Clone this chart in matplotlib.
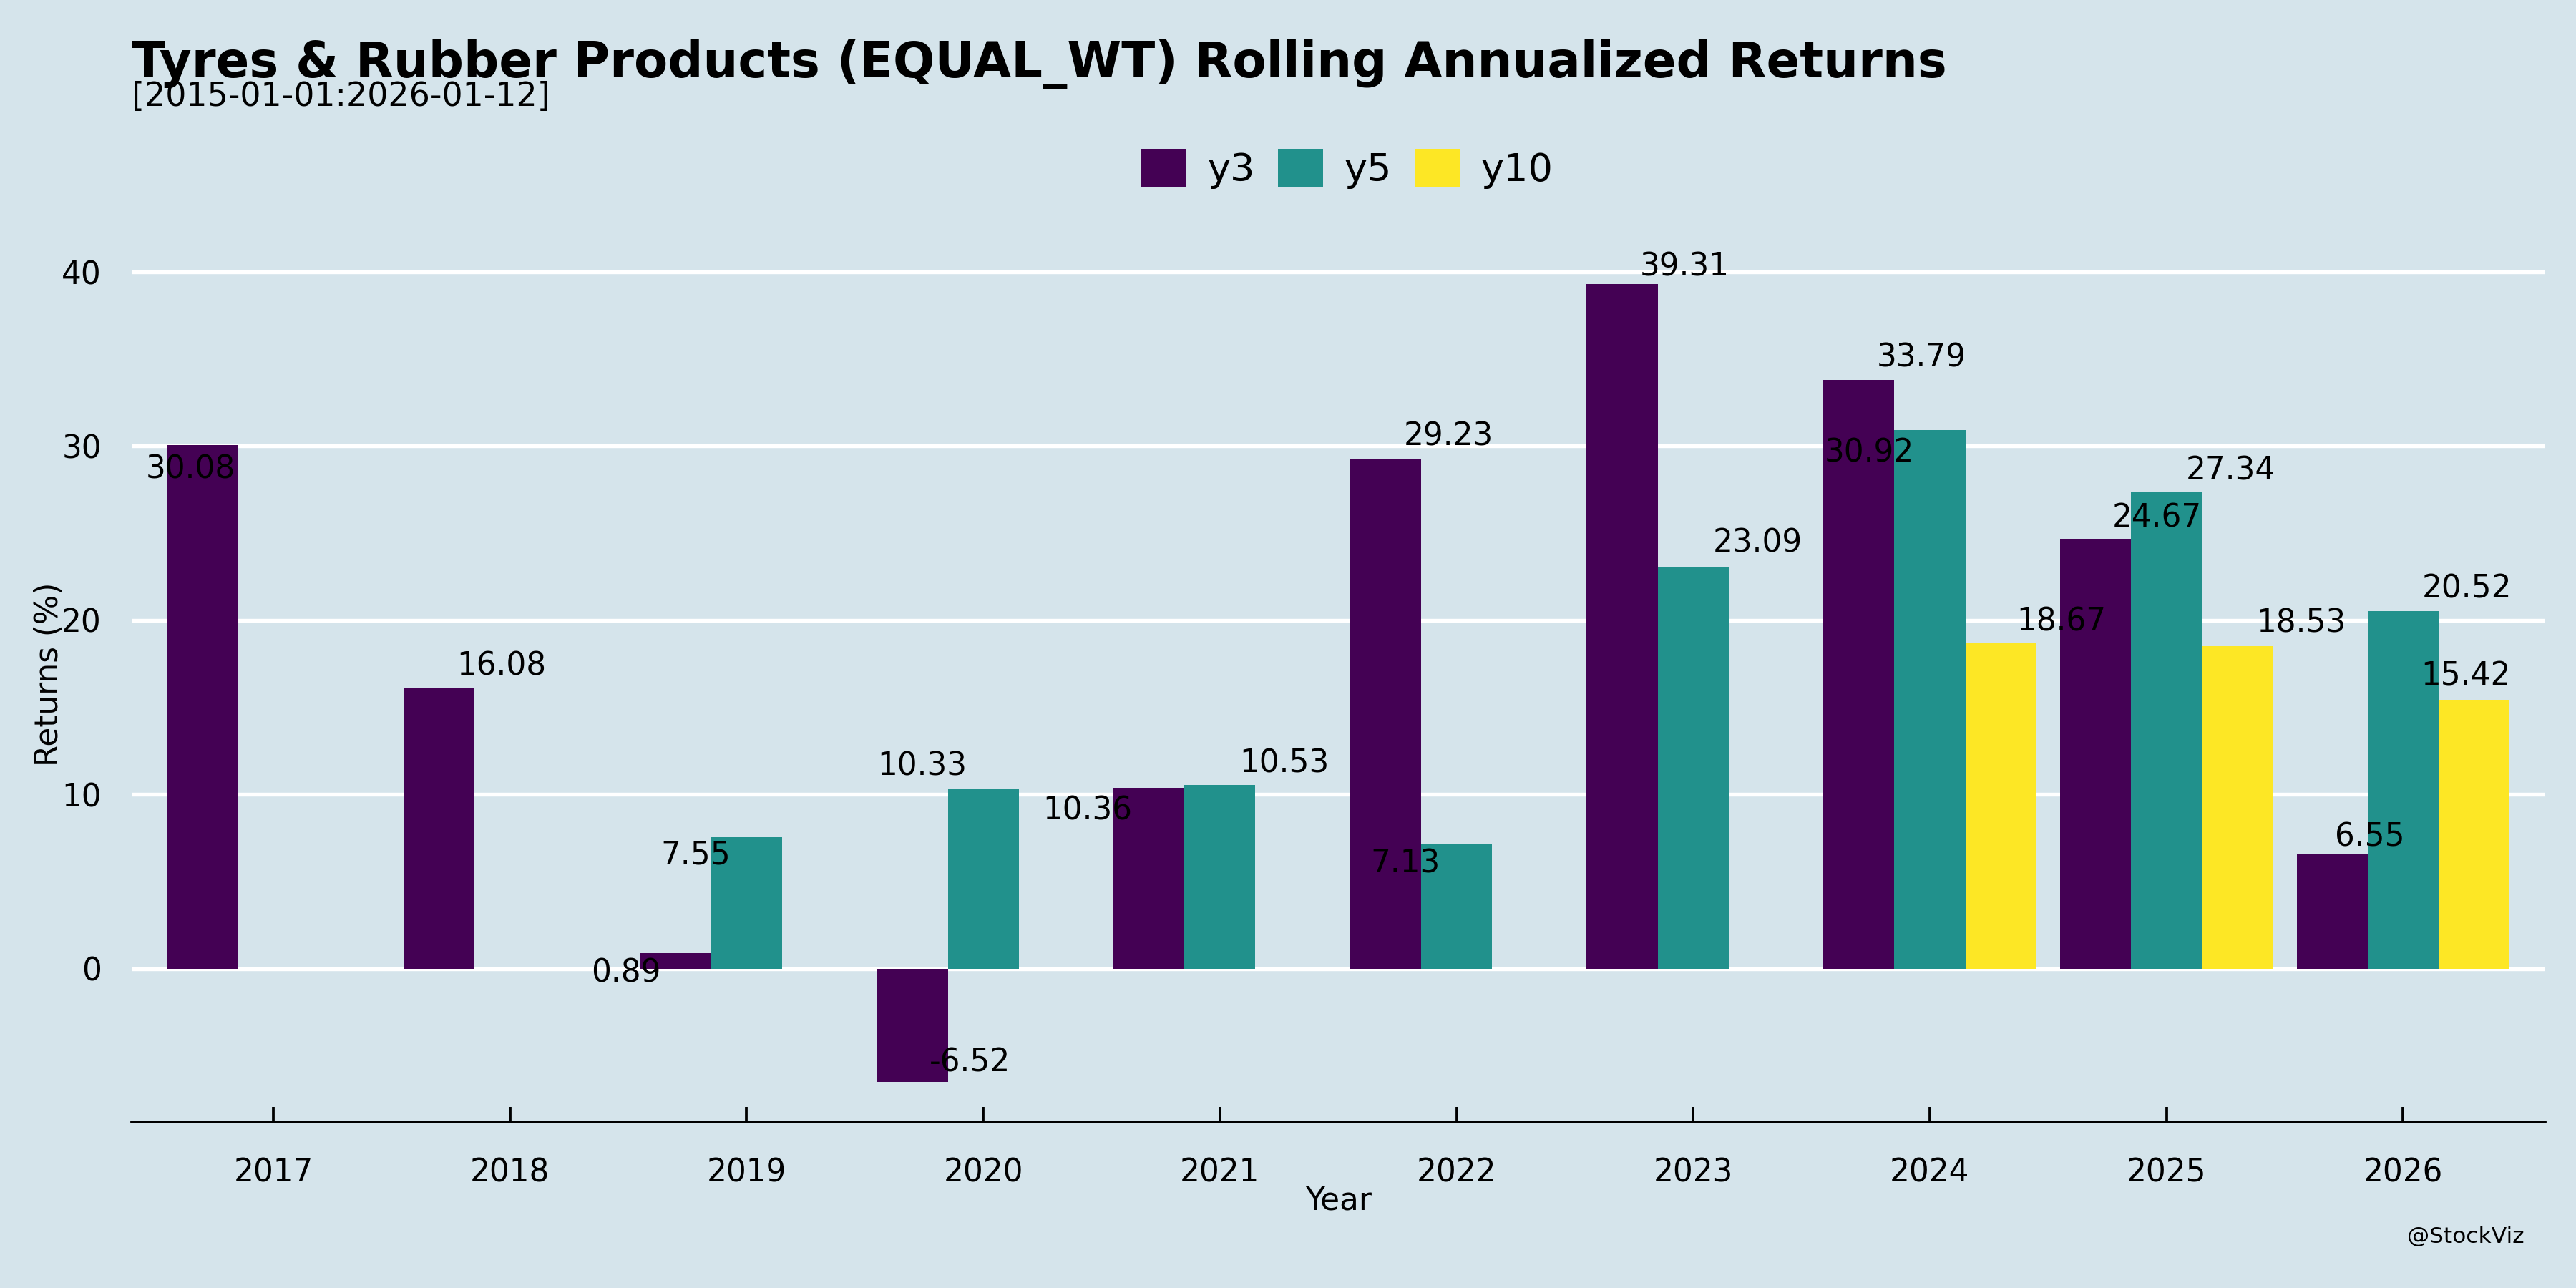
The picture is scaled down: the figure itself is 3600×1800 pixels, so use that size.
import matplotlib
matplotlib.use('Agg')
import matplotlib.pyplot as plt
import numpy as np

plt.rcParams['font.family'] = ['DejaVu Sans']

# rolling annualized returns (%) per year
years = ['2017', '2018', '2019', '2020', '2021', '2022', '2023', '2024', '2025', '2026']
y3 = [30.08, 16.08, 0.89, -6.52, 10.36, 29.23, 39.31, 33.79, 24.67, 6.55]
y5 = [np.nan, np.nan, 7.55, 10.33, 10.53, 7.13, 23.09, 30.92, 27.34, 20.52]
y10 = [np.nan] * 7 + [18.67, 18.53, 15.42]
series_names = ['y3', 'y5', 'y10']

# label jitter (x in category units, y in %) as seen on the source
y3_dx = [-0.05, 0.265, -0.21, 0.245, -0.26, 0.265, 0.265, 0.265, 0.26, 0.16]
y3_dy = [-1.4, 1.28, -1.17, 1.14, -1.3, 1.34, 0.97, 1.3, 1.18, 1.0]
y5_dx = [0, 0, -0.215, -0.257, 0.271, -0.215, 0.271, -0.257, 0.271, 0.271]
y5_dy = [0, 0, -1.04, 1.27, 1.26, -1.09, 1.34, -1.3, 1.24, 1.27]
y10_dx = [0] * 7 + [0.256, 0.269, -0.036]
y10_dy = [0] * 7 + [1.23, 1.28, 1.37]

colors = ['#440154', '#21918c', '#fde725']
BG = '#d5e4eb'

fig = plt.figure(figsize=(12, 6), dpi=300, facecolor=BG)
ax = fig.add_axes([0.051, 0.129, 0.937, 0.695])
ax.set_facecolor(BG)

x = np.arange(len(years))
w = 0.3
allvals = [y3, y5, y10]
alldx = [y3_dx, y5_dx, y10_dx]
alldy = [y3_dy, y5_dy, y10_dy]
for k, (vals, name, c) in enumerate(zip(allvals, series_names, colors)):
    pos = x + (k - 1) * w
    v = np.array(vals, dtype=float)
    ax.bar(pos, np.nan_to_num(v), w, color=c, label=name, zorder=2)
    for p, val, dx, dy in zip(pos, v, alldx[k], alldy[k]):
        if np.isnan(val):
            continue
        ax.text(p + dx, val + dy, f'{val:.2f}', ha='center', va='center',
                fontsize=10.5, color='black', zorder=3, clip_on=False)

ax.set_xlim(-0.6, 9.6)
ax.set_ylim(-8.8, 42.6)
ax.set_yticks([0, 10, 20, 30, 40])
ax.set_xticks(x)
ax.set_xticklabels(years)
ax.grid(axis='y', color='white', linewidth=1.3, zorder=0)
ax.grid(axis='x', visible=False)
for s in ['top', 'right', 'left']:
    ax.spines[s].set_visible(False)
ax.spines['bottom'].set_color('black')
ax.spines['bottom'].set_linewidth(0.9)
ax.tick_params(axis='y', length=0, labelsize=10.5, pad=10)
ax.tick_params(axis='x', direction='in', length=5, width=0.9, labelsize=10.5, pad=12)
ax.set_axisbelow(True)

ax.set_xlabel('Year', fontsize=10.5, labelpad=-1)
ax.set_ylabel('Returns (%)', fontsize=10.5, labelpad=-1)

leg = ax.legend(loc='center', bbox_to_anchor=(0.523, 0.869), bbox_transform=fig.transFigure,
                ncol=3, frameon=False, fontsize=13, handlelength=1.15, handleheight=1.15,
                handletextpad=0.55, columnspacing=0.6)

fig.text(0.051, 0.940, 'Tyres & Rubber Products (EQUAL_WT) Rolling Annualized Returns',
         fontsize=16.5, fontweight='bold', ha='left', va='baseline')
fig.text(0.051, 0.918, '[2015-01-01:2026-01-12]', fontsize=11, ha='left', va='baseline')
fig.text(0.98, 0.035, '@StockViz', fontsize=7.5, ha='right', va='baseline')

fig.savefig('out.png', dpi=300, facecolor=BG)
